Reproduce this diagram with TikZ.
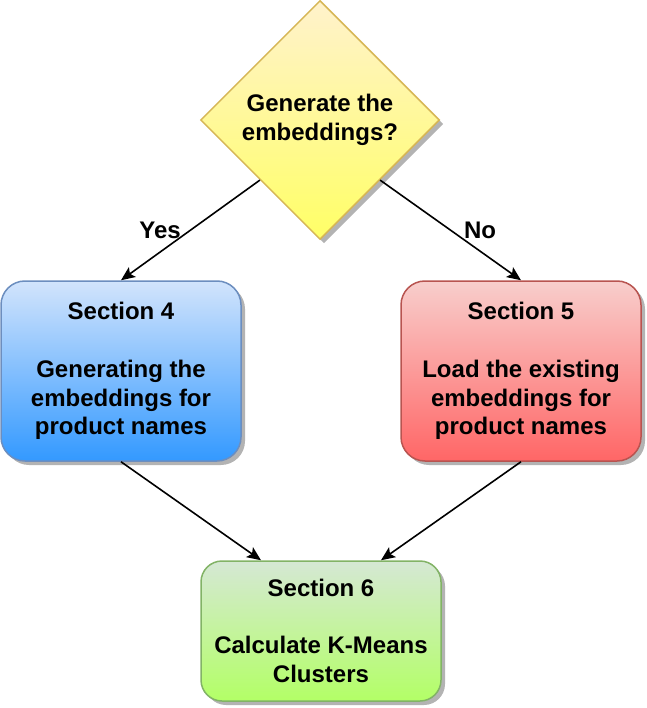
\documentclass[tikz,border=0pt]{standalone}
\usepackage{fontspec}
\setmainfont{Liberation Sans}
\usetikzlibrary{shapes.geometric,shadows,arrows.meta}
\definecolor{ytop}{HTML}{FFF2CC}
\definecolor{ybot}{HTML}{FFFF66}
\definecolor{ystroke}{HTML}{D6B656}
\definecolor{btop}{HTML}{D2E4FC}
\definecolor{bbot}{HTML}{3399FF}
\definecolor{bstroke}{HTML}{6C8EBF}
\definecolor{rtop}{HTML}{F8CECC}
\definecolor{rbot}{HTML}{FF6666}
\definecolor{rstroke}{HTML}{B85450}
\definecolor{gtop}{HTML}{D5E8D4}
\definecolor{gbot}{HTML}{B3FF66}
\definecolor{gstroke}{HTML}{82B366}
\definecolor{shade}{HTML}{B3B3B3}
\tikzset{
  txt/.style={font=\fontsize{24}{28.8}\selectfont\bfseries, align=center, text=black},
  shad/.style={drop shadow={shadow xshift=4pt, shadow yshift=-4pt, fill=shade, opacity=1}},
  box/.style={txt, shad, rectangle, draw, line width=1.5pt, minimum width=240pt, inner sep=0pt},
  arr/.style={line width=1.6pt, -{Stealth[length=14pt,width=12pt,inset=3pt]}},
}
\begin{document}
\begin{tikzpicture}[x=1pt,y=-1pt]
\useasboundingbox (0,0) rectangle (646,708);
\node[txt, shad, diamond, draw=ystroke, line width=1.5pt, top color=ytop, bottom color=ybot,
      minimum width=239pt, minimum height=239pt, inner sep=0pt] (dec) at (320,120)
      {Generate the\\embeddings?};
\node[box, draw=bstroke, top color=btop, bottom color=bbot, minimum height=180pt, rounded corners=24pt]
      (s4) at (121,371) {Section 4\\\mbox{}\\Generating the\\embeddings for\\product names};
\node[box, draw=rstroke, top color=rtop, bottom color=rbot, minimum height=180pt, rounded corners=24pt]
      (s5) at (521,371) {Section 5\\\mbox{}\\Load the existing\\embeddings for\\product names};
\node[box, draw=gstroke, top color=gtop, bottom color=gbot, minimum height=140pt, rounded corners=21pt]
      (s6) at (321,631) {Section 6\\\mbox{}\\Calculate K-Means\\Clusters};
\draw[arr] (dec.south west) -- (s4.north);
\draw[arr] (dec.south east) -- (s5.north);
\draw[arr] (s4.south) -- ([xshift=-60pt]s6.north);
\draw[arr] (s5.south) -- ([xshift=60pt]s6.north);
\node[txt] (yes) at (160,230) {Yes};
\node[txt] (no) at (480,230) {No};
\end{tikzpicture}
\end{document}
